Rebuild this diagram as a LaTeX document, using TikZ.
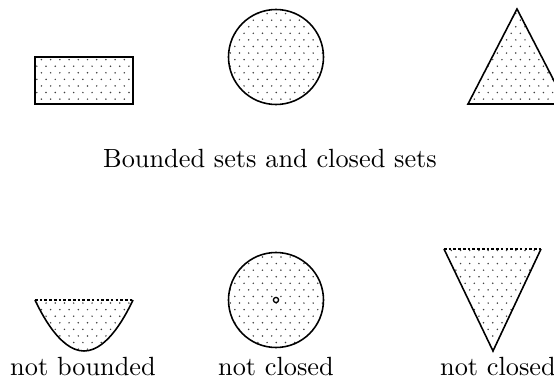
\documentclass[tikz,border=0pt]{standalone}
\usetikzlibrary{patterns}
\pgfdeclarepatternformonly{mydots}{\pgfqpoint{-0.5pt}{-0.5pt}}{\pgfqpoint{4pt}{5pt}}{\pgfqpoint{3.5pt}{5pt}}{%
  \pgfpathcircle{\pgfqpoint{0pt}{0pt}}{0.32pt}%
  \pgfpathcircle{\pgfqpoint{1.75pt}{2.5pt}}{0.32pt}%
  \pgfusepath{fill}}
\tikzset{
  dotshape/.style={line width=0.6pt, pattern=mydots, pattern color=black!75},
  dotfill/.style={pattern=mydots, pattern color=black!75},
  solidline/.style={line width=0.6pt},
  openline/.style={line width=0.6pt, dash pattern=on 1pt off 0.8pt},
  lbl/.style={font=\normalsize, inner sep=0pt}
}
\begin{document}
\begin{tikzpicture}[x=0.38pt,y=-0.38pt]
\clip (0,0) rectangle (554,382);
% top row
\draw[dotshape] (35,57) rectangle (133,104);
\draw[dotshape] (276,57) circle (47.5);
\coordinate (ta) at (517,9);
\coordinate (tl) at (468,104);
\coordinate (tr) at (566,104);
\draw[dotshape] (ta) -- (tl) -- (tr) -- cycle;
\node[lbl] (title) at (270,159) {Bounded sets and closed sets};
% bottom row
\coordinate (pl) at (35,300);
\coordinate (pr) at (133,300);
\fill[dotfill] (pl) parabola bend (84,351) (pr) -- cycle;
\draw[solidline] (pl) parabola bend (84,351) (pr);
\draw[openline] (pl) -- (pr);
\draw[dotshape] (276,300) circle (47.5);
\draw[line width=0.5pt, fill=white] (276,300) circle (2.6);
\coordinate (vl) at (444,249);
\coordinate (vr) at (541,249);
\coordinate (vb) at (493,351);
\fill[dotfill] (vl) -- (vr) -- (vb) -- cycle;
\draw[solidline] (vr) -- (vb) -- (vl);
\draw[openline] (vl) -- (vr);
\node[lbl] (nb) at (83,367) {not bounded};
\node[lbl] (nc1) at (276,367) {not closed};
\node[lbl] (nc2) at (498,367) {not closed};
\end{tikzpicture}
\end{document}
